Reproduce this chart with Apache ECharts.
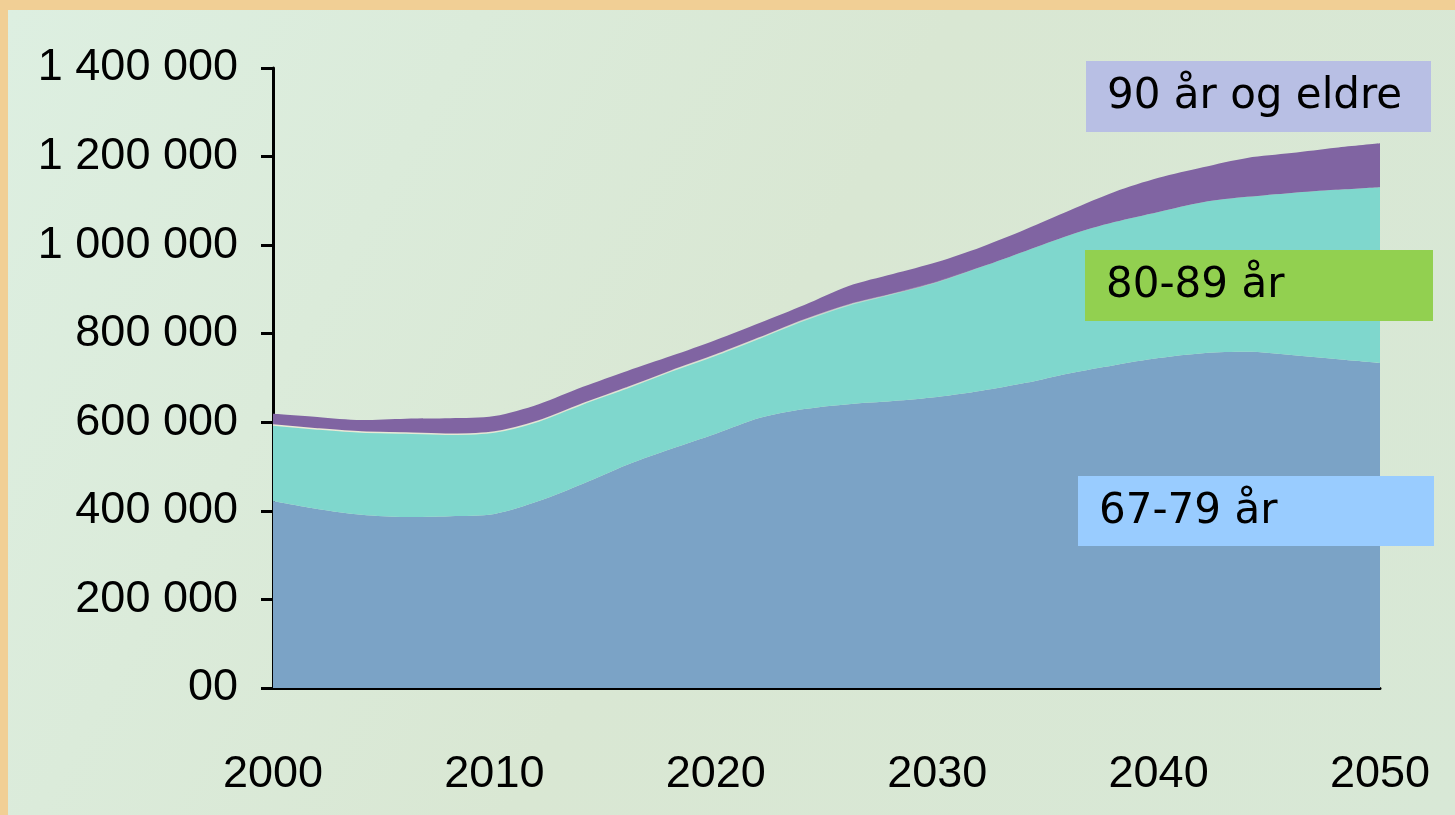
<!DOCTYPE html>
<html>
<head>
<meta charset="utf-8">
<script src="https://cdn.jsdelivr.net/npm/echarts@6/dist/echarts.min.js"></script>
<style>
  html, body { margin: 0; padding: 0; }
  #chart { width: 1455px; height: 815px; }
</style>
</head>
<body>
<div id="chart"></div>
<script>
// years sampled every 2nd year
var years = ['2000', '2002', '2004', '2006', '2008', '2010', '2012', '2014', '2016', '2018', '2020', '2022', '2024',
  '2026', '2028', '2030', '2032', '2034', '2036', '2038', '2040', '2042', '2044', '2046', '2048', '2050']
var age6779 = [422000, 404000, 391000, 386000, 388000, 393000, 422000, 461000, 504000, 540000,
  574000, 610000, 630000, 641000, 648000, 657000, 671000, 689000, 711000, 729000,
  745000, 756000, 759000, 752000, 743000, 734000]
var age8089 = [172000, 181000, 187000, 190000, 185000, 185000, 181000, 181000, 174000, 176000,
  178000, 181000, 201000, 224000, 242000, 260000, 280000, 298000, 312000, 323000,
  330000, 341000, 350000, 366000, 382000, 397000]
var age90 = [25000, 27000, 27000, 32000, 36000, 36000, 38000, 38000, 38000, 34000,
  34000, 34000, 34000, 43000, 45000, 45000, 45000, 49000, 56000, 68000,
  77000, 79000, 88000, 90000, 95000, 99000]
var seriesNames = ['67-79 år', '80-89 år', '90 år og eldre']

var axisFont = "'Liberation Sans', Arial, sans-serif"
var boxFont = "'DejaVu Sans', Verdana, sans-serif"

function fmtNum(v) {
  if (v === 0) return '00'
  return String(v).replace(/\B(?=(\d{3})+(?!\d))/g, ' ')
}

var chart = echarts.init(document.getElementById('chart'))
chart.setOption({
  backgroundColor: '#f1cf95',
  animation: false,
  grid: {
    left: 273,
    right: 75,
    top: 68,
    bottom: 127
  },
  graphic: [
    {
      type: 'rect',
      z: -10,
      shape: { x: 8, y: 10, width: 1447, height: 805 },
      style: {
        fill: new echarts.graphic.LinearGradient(0, 0, 1, 1, [
          { offset: 0, color: '#ddefe1' },
          { offset: 0.5, color: '#d9e7d3' },
          { offset: 1, color: '#d8e8d6' }
        ])
      }
    },
    // label boxes
    { type: 'rect', z: 100, shape: { x: 1086, y: 61, width: 345, height: 71 }, style: { fill: '#b8bfe4' } },
    { type: 'text', z: 101, x: 1107, y: 97, style: { text: seriesNames[2], font: '42px ' + boxFont, fill: '#000', textVerticalAlign: 'middle' } },
    { type: 'rect', z: 100, shape: { x: 1085, y: 250, width: 348, height: 71 }, style: { fill: '#92d050' } },
    { type: 'text', z: 101, x: 1106, y: 286, style: { text: seriesNames[1], font: '42px ' + boxFont, fill: '#000', textVerticalAlign: 'middle' } },
    { type: 'rect', z: 100, shape: { x: 1078, y: 476, width: 356, height: 70 }, style: { fill: '#99ccff' } },
    { type: 'text', z: 101, x: 1099, y: 512, style: { text: seriesNames[0], font: '42px ' + boxFont, fill: '#000', textVerticalAlign: 'middle' } }
  ],
  xAxis: {
    type: 'category',
    data: years,
    boundaryGap: false,
    axisLine: { show: true, lineStyle: { color: '#000', width: 3 } },
    axisTick: { show: false },
    splitLine: { show: false },
    axisLabel: {
      interval: 4,
      margin: 64,
      fontFamily: axisFont,
      fontSize: 45,
      color: '#000'
    }
  },
  yAxis: {
    type: 'value',
    min: 0,
    max: 1400000,
    interval: 200000,
    axisLine: { show: true, lineStyle: { color: '#000', width: 3 } },
    axisTick: { show: true, length: 12, lineStyle: { color: '#000', width: 3 } },
    splitLine: { show: false },
    axisLabel: {
      margin: 35,
      fontFamily: axisFont,
      fontSize: 45,
      color: '#000',
      formatter: fmtNum
    }
  },
  series: [
    {
      name: seriesNames[0],
      type: 'line',
      stack: 'total',
      data: age6779,
      smooth: 0.3,
      symbol: 'none',
      lineStyle: { width: 0 },
      areaStyle: { color: '#7ba3c6', opacity: 1 }
    },
    {
      name: seriesNames[1],
      type: 'line',
      stack: 'total',
      data: age8089,
      smooth: 0.3,
      symbol: 'none',
      // thin pale edge that fades out towards the right
      lineStyle: {
        width: 1.5,
        color: new echarts.graphic.LinearGradient(0, 0, 1, 0, [
          { offset: 0, color: 'rgba(236,236,214,1)' },
          { offset: 0.45, color: 'rgba(236,236,214,0.8)' },
          { offset: 0.65, color: 'rgba(236,236,214,0)' },
          { offset: 1, color: 'rgba(236,236,214,0)' }
        ])
      },
      areaStyle: { color: '#7fd7cd', opacity: 1 }
    },
    {
      name: seriesNames[2],
      type: 'line',
      stack: 'total',
      data: age90,
      smooth: 0.3,
      symbol: 'none',
      lineStyle: { width: 0 },
      areaStyle: { color: '#8064a2', opacity: 1 }
    }
  ]
})
</script>
</body>
</html>
